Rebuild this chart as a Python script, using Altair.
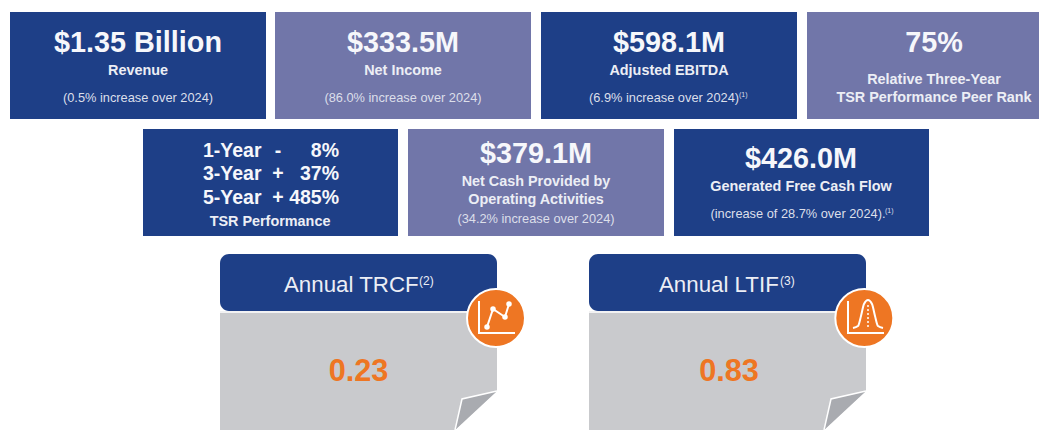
import altair as alt
import pandas as pd

FONT = "Liberation Sans"
NAVY = "#1e3f87"
PURPLE = "#7176a9"
GREY = "#c9cacd"
FOLD = "#a9abb0"
ORANGE = "#ee7623"
WHITE = "#ffffff"
SOFT = "#dcdfea"
LABEL = "#eceef5"

# ---- content ----
headlines = ["$1.35 Billion", "$333.5M", "$598.1M", "75%", "$379.1M", "$426.0M"]
labels = ["Revenue", "Net Income", "Adjusted EBITDA", "Relative Three-Year",
          "TSR Performance Peer Rank", "TSR Performance", "Net Cash Provided by",
          "Operating Activities", "Generated Free Cash Flow"]
notes = ["(0.5% increase over 2024)", "(86.0% increase over 2024)",
         "(6.9% increase over 2024)", "(34.2% increase over 2024)",
         "(increase of 28.7% over 2024)."]
tsr_periods = ["1-Year", "3-Year", "5-Year"]
tsr_signs = ["-", "+", "+"]
tsr_values = ["8%", "37%", "485%"]
safety_titles = ["Annual TRCF", "Annual LTIF"]
safety_marks = ["(2)", "(3)"]
safety_values = ["0.23", "0.83"]

# ---- layout (reference pixels) ----
box_left = [10, 275, 541, 807, 143, 408, 674]
box_right = [266, 531, 797, 1047, 398, 664, 929]
box_top = [12, 12, 12, 12, 129, 129, 129]
box_bottom = [119, 119, 119, 119, 236, 236, 236]
box_fill = [NAVY, PURPLE, NAVY, PURPLE, NAVY, PURPLE, NAVY]
headline_x = [138, 403, 669, 934, 536, 801]
headline_y = [42, 42, 42, 42, 153, 158]
label_x = [138, 403, 669, 934, 934, 270, 536, 536, 801]
label_y = [70, 70, 70, 79, 97, 221, 181, 199, 186]
note_x = [138, 403, 664, 536, 798]
note_y = [97, 97, 97, 218, 213]
note_mark_x = [739, 885]
note_mark_y = [94, 210]
tsr_y = [150, 173, 197]
card_shift = [0, 369]
title_x = [284, 659]
mark_x = [419, 780]
value_x = [358.5, 729]

X = alt.Scale(domain=[8, 1039], nice=False, zero=False)
Y = alt.Scale(domain=[430, 8], nice=False, zero=False)
x = alt.X("x:Q", scale=X, axis=None)
y = alt.Y("y:Q", scale=Y, axis=None)


def text_layer(texts, xs, ys, size, color=WHITE, bold=True, align="center"):
    df = pd.DataFrame({"t": texts, "x": xs, "y": ys})
    return alt.Chart(df).mark_text(
        font=FONT, fontSize=size, fontWeight="bold" if bold else "normal",
        color=color, align=align, baseline="middle", dy=1
    ).encode(x=x, y=y, text="t:N")


def polyline(xs, ys, color=WHITE, width=2.0, **kw):
    df = pd.DataFrame({"x": xs, "y": ys, "i": range(len(xs))})
    return alt.Chart(df).mark_line(color=color, strokeWidth=width, **kw).encode(
        x=x, y=y, order=alt.Order("i:Q"))


def dots(xs, ys, size=30, color=WHITE):
    df = pd.DataFrame({"x": xs, "y": ys})
    return alt.Chart(df).mark_circle(size=size, color=color, opacity=1).encode(x=x, y=y)


boxes = alt.Chart(pd.DataFrame({
    "x": box_left, "x2": box_right, "y": box_top, "y2": box_bottom, "c": box_fill
})).mark_rect().encode(x=x, x2="x2:Q", y=y, y2="y2:Q",
                       color=alt.Color("c:N", scale=None))

layers = [
    boxes,
    text_layer(headlines, headline_x, headline_y, 28.8, color="#f6f7fb"),
    text_layer(labels, label_x, label_y, 14.4, color=LABEL),
    text_layer(notes, note_x, note_y, 12.8, color=SOFT, bold=False),
    text_layer(["(1)", "(1)"], note_mark_x, note_mark_y, 7, color=SOFT, bold=False, align="left"),
    text_layer(tsr_periods, [203] * 3, tsr_y, 19.5, color="#f6f7fb", align="left"),
    text_layer(tsr_signs, [278] * 3, tsr_y, 19.5, color="#f6f7fb"),
    text_layer(tsr_values, [339] * 3, tsr_y, 19.5, color="#f6f7fb", align="right"),
]

for k, dx in enumerate(card_shift):
    sheet = alt.Chart(pd.DataFrame({
        "x": [220 + dx, 455 + dx, 497 + dx],
        "y": [311, 311, 311],
        "y2": [430, 430, 391],
    })).mark_area(color=GREY, interpolate="linear").encode(x=x, y=y, y2="y2:Q")
    fold = alt.Chart(pd.DataFrame({
        "x": [455 + dx, 462 + dx, 497 + dx],
        "y": [430, 399, 391],
        "y2": [430, 423.5, 391],
    })).mark_area(color=FOLD, interpolate="linear").encode(x=x, y=y, y2="y2:Q")
    header = alt.Chart(pd.DataFrame({
        "x": [220 + dx], "x2": [497 + dx], "y": [254], "y2": [311]
    })).mark_rect(color=NAVY, cornerRadius=9).encode(x=x, x2="x2:Q", y=y, y2="y2:Q")
    badge = alt.Chart(pd.DataFrame({"x": [496 + dx - (k * 0.7)], "y": [318]})).mark_circle(
        size=3364, color=ORANGE, opacity=1, stroke=WHITE, strokeWidth=2
    ).encode(x=x, y=y)
    layers += [
        sheet, fold,
        polyline([455 + dx, 462 + dx, 497 + dx], [430, 399, 391], width=1.5),
        polyline([220 + dx, 497 + dx], [312, 312], width=1.5),
        header,
        text_layer([safety_titles[k]], [title_x[k]], [284], 22.3, color=LABEL, bold=False, align="left"),
        text_layer([safety_marks[k]], [mark_x[k]], [280], 12, color=LABEL, bold=False, align="left"),
        text_layer([safety_values[k]], [value_x[k]], [371], 30.7, color=ORANGE),
        badge,
        polyline([479 + dx, 479 + dx, 515 + dx], [301, 333, 333]),
    ]

# TRCF icon: small line chart
layers += [
    polyline([487, 493, 505, 509], [327, 309, 317, 304]),
    dots([487, 493, 505, 509], [327, 309, 317, 304]),
]
# LTIF icon: bell curve
bell_x = [853, 858, 861, 864, 868, 872, 875, 878, 883]
bell_y = [328, 326, 316, 304, 300, 304, 316, 326, 328]
layers += [
    alt.Chart(pd.DataFrame({"x": bell_x, "y": bell_y})).mark_line(
        color=WHITE, strokeWidth=2, interpolate="monotone").encode(x=x, y=y),
    polyline([868, 868], [305, 329], width=1.5, strokeDash=[2, 2]),
]

chart = alt.layer(*layers).properties(
    width=1031, height=422, padding=0, background=WHITE,
    autosize=alt.AutoSizeParams(type="none")
).configure_view(stroke=None)

chart.save("out.html", embed_options={"renderer": "svg", "actions": False})
